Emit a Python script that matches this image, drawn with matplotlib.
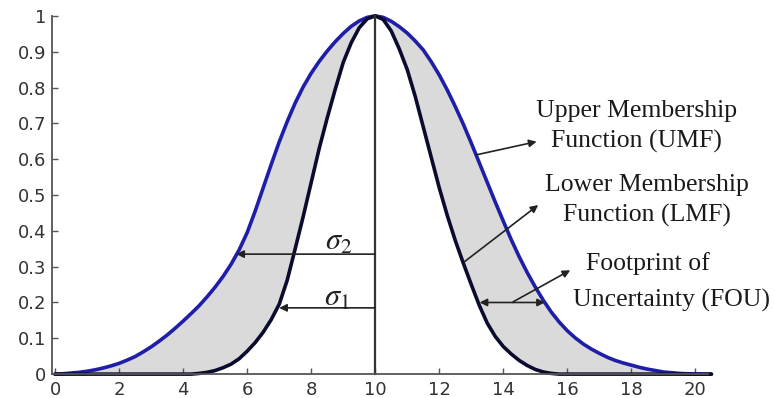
import numpy as np
import matplotlib
matplotlib.use("Agg")
import matplotlib.pyplot as plt

# values, x step 0.25 from 0 to 20.5
x_vals = np.arange(0, 20.51, 0.25)
umf = [0.0, 0.001, 0.003, 0.005, 0.008,
       0.012, 0.017, 0.023, 0.03,
       0.039, 0.049, 0.062, 0.076,
       0.092, 0.109, 0.128, 0.148,
       0.169, 0.191, 0.216, 0.243,
       0.273, 0.307, 0.347, 0.395,
       0.455, 0.52, 0.585, 0.648,
       0.705, 0.757, 0.802, 0.84,
       0.873, 0.902, 0.928, 0.951,
       0.971, 0.986, 0.996,
       1.0,
       0.996, 0.985, 0.97, 0.952,
       0.93, 0.905, 0.872, 0.835,
       0.793, 0.747, 0.698, 0.645,
       0.59, 0.535, 0.48, 0.427,
       0.375, 0.327, 0.283, 0.243,
       0.206, 0.173, 0.145, 0.121,
       0.101, 0.084, 0.07, 0.058,
       0.047, 0.038, 0.031, 0.025,
       0.019, 0.014, 0.01, 0.006,
       0.004, 0.002, 0.001, 0.0,
       0.0, 0.0]
lmf = [0.0] * 18 + [
       0.002, 0.005, 0.01, 0.018, 0.028, 0.043, 0.064, 0.088,
       0.117, 0.152, 0.195, 0.262, 0.35, 0.44, 0.535, 0.63,
       0.715, 0.795, 0.87, 0.925, 0.967, 0.992,
       1.0,
       0.99, 0.958, 0.908, 0.85, 0.775, 0.69, 0.605, 0.52,
       0.443, 0.373, 0.31, 0.25, 0.192, 0.142, 0.105, 0.077,
       0.056, 0.038, 0.024, 0.013, 0.006, 0.002, 0.0] + [0.0] * 19

x_ticks = [0, 2, 4, 6, 8, 10, 12, 14, 16, 18, 20]
y_ticks = [0, 0.1, 0.2, 0.3, 0.4, 0.5, 0.6, 0.7, 0.8, 0.9, 1]
y_tick_labels = ["0", "0.1", "0.2", "0.3", "0.4", "0.5", "0.6", "0.7", "0.8", "0.9", "1"]

center = 10
sigma2_level = 0.335
sigma2_x = 5.66
sigma1_level = 0.185
sigma1_x = 7.0

plt.rcParams["mathtext.fontset"] = "stix"

fig = plt.figure(figsize=(7.74, 3.98), dpi=100)
ax = fig.add_axes([0.067, 0.060, 0.848, 0.900])

ax.fill_between(x_vals, lmf, umf, color="#dadada", lw=0)
ax.plot(x_vals, umf, color="#1e1ea8", lw=2.6, clip_on=False, solid_capstyle="round")
ax.plot(x_vals, lmf, color="#0b0b2e", lw=2.6, clip_on=False, solid_capstyle="round")
ax.plot([center, center], [0, 1], color="#333333", lw=1.6, clip_on=False)

ax.set_xlim(-0.1, 20.4)
ax.set_ylim(0, 1)
ax.set_xticks(x_ticks)
ax.set_yticks(y_ticks)
ax.set_yticklabels(y_tick_labels)
ax.tick_params(direction="in", length=4, width=1, colors="#555555",
               labelcolor="#333333", labelsize=13)
ax.tick_params(axis="x", pad=5)
ax.tick_params(axis="y", pad=4)
for side in ["top", "right"]:
    ax.spines[side].set_visible(False)
for side in ["left", "bottom"]:
    ax.spines[side].set_color("#555555")
    ax.spines[side].set_linewidth(1.3)

arrow = dict(arrowstyle="-|>", color="#222222", lw=1.2, mutation_scale=11,
             shrinkA=0, shrinkB=0)

# sigma arrows
ax.annotate("", xy=(sigma2_x, sigma2_level), xytext=(center, sigma2_level), arrowprops=arrow)
ax.annotate("", xy=(sigma1_x, sigma1_level), xytext=(center, sigma1_level), arrowprops=arrow)
ax.text(8.86, 0.37, r"$\sigma_2$", fontsize=22, ha="center", va="center", color="#222222")
ax.text(8.79, 0.215, r"$\sigma_1$", fontsize=22, ha="center", va="center", color="#222222")

serif = "Liberation Serif"
ax.annotate("", xy=(15.04, 0.649), xytext=(13.15, 0.612), arrowprops=arrow)
ax.text(18.15, 0.69, "Upper Membership\nFunction (UMF)", family=serif, fontsize=18.5,
        ha="center", va="center", linespacing=1.45, color="#1a1a1a")

ax.annotate("", xy=(15.09, 0.472), xytext=(12.79, 0.314), arrowprops=arrow)
ax.text(18.5, 0.486, "Lower Membership\nFunction (LMF)", family=serif, fontsize=18.5,
        ha="center", va="center", linespacing=1.45, color="#1a1a1a")

ax.annotate("", xy=(13.26, 0.2), xytext=(14.3, 0.2), arrowprops=arrow)
ax.annotate("", xy=(15.3, 0.2), xytext=(14.3, 0.2), arrowprops=arrow)
ax.annotate("", xy=(16.09, 0.29), xytext=(14.31, 0.202), arrowprops=arrow)
ax.text(18.5, 0.31, "Footprint of", family=serif, fontsize=18.5,
        ha="center", va="center", color="#1a1a1a")
ax.text(19.25, 0.207, "Uncertainty (FOU)", family=serif, fontsize=18.5,
        ha="center", va="center", color="#1a1a1a")

fig.savefig("out.png", dpi=100)
